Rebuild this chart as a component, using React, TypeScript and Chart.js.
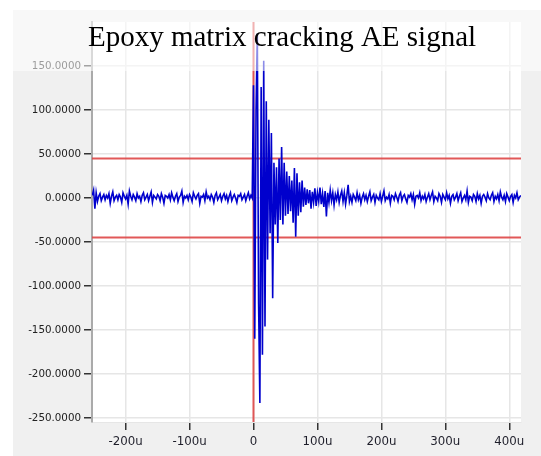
import React, { useEffect, useRef } from "react";
import { Chart, registerables } from "chart.js";

Chart.register(...registerables);

const TITLE = "Epoxy matrix cracking AE signal";

// sampling (µs)
const SAMPLE_START = -252;
const SAMPLE_STEP = 2;

// pre-trigger noise, t = -252 .. -2 µs
const PRE_NOISE = [
  3, 9, -12, 6, -4, 2, 5, -3, 1, 4, -2, 3, 0, 5, -6, 2, 7, -3, 1, 3,
  -2, 4, 1, -5, 6, 2, -1, 3, -7, 8, 2, -2, 4, 1, -3, 5, 0, 2, -4, 3,
  6, -2, 1, 4, -3, 2, 7, -5, 3, 1, -1, 4, 2, -3, 5, 1, -6, 3, 2, 0,
  4, -2, 6, 1, -3, 2, 5, -4, 1, 3, 8, -5, 2, 0, 3, -2, 4, 1, -4, 6,
  2, -1, 3, 5, -6, 2, 1, 4, -3, 7, 0, 2, -2, 4, 1, -5, 3, 6, -2, 1,
  4, -3, 2, 5, -1, 3, -4, 2, 6, -3, 1, 4, 0, -5, 3, 2, 5, -2, 1, 4,
  -3, 2, 6, -1, 3, 0,
];

// burst, t = 0 .. 80 µs
const BURST = [
  128, -160, 100, 187, -120, -233, 126, -178, 156, -146,
  110, -70, 89, -40, 74, -114, 40, -30, 35, -51,
  45, -25, 58, -30, 40, -20, 30, -18, 25, -15,
  20, -28, 34, -44, 28, -20, 18, -16, 20, -10,
  12,
];

// decay, t = 82 .. 150 µs
const DECAY = [
  -8, 10, -6, 9, -12, 7, -5, 11, -9, 6, -4, 12, -7, 5, -10, 8, -21, 6, -5, 9,
  -3, 6, -8, 4, -2, 7, -5, 3, 8, -4, 6, -7, 3, 15, -4,
];

// tail noise, t = 152 .. 418 µs
const TAIL_NOISE = [
  2, -5, 4, 1, -3, 6, -2, 3, -6, 1, 5, -2, 3, -4, 2, 7, -3, 1, 4, -5,
  3, 0, -2, 5, -4, 2, 8, -3, 1, -1, 4, -6, 3, 2, -2, 5, 1, -4, 3, 6,
  -3, 2, 4, -1, -5, 3, 1, 5, -2, 4, -7, 2, 3, 0, 6, -3, 2, -1, 4, -4,
  1, 5, -2, 3, 7, -4, 2, 0, -3, 5, 2, -5, 4, 1, -2, 6, -1, 3, -6, 2,
  4, -2, 1, 5, -3, 2, 6, -4, 0, 3, -2, 8, -5, 2, 1, -3, 4, 2, -4, 5,
  -1, 3, -6, 2, 4, 1, -3, 5, 0, -2, 3, 6, -4, 2, -1, 4, -3, 7, 1, -2,
  3, -4, 5, 1, -3, 2, 4, -5, 3, 0, 6, -2, 1, 3,
];

const THRESHOLD = 45;
const TRIGGER_TIME = 0;

const X_MIN = -252.5;
const X_MAX = 418.3;
const Y_MIN = -254.5;
const Y_MAX = 200;
const X_TICKS = [-200, -100, 0, 100, 200, 300, 400];
const Y_TICKS = [-250, -200, -150, -100, -50, 0, 50, 100, 150];

const SIGNAL = [...PRE_NOISE, ...BURST, ...DECAY, ...TAIL_NOISE];

const bgPlugin = {
  id: "panelBg",
  beforeDraw(chart: any) {
    const { ctx, chartArea } = chart;
    ctx.save();
    ctx.fillStyle = "#ffffff";
    ctx.fillRect(0, 0, chart.width, chart.height);
    ctx.fillStyle = "#f0f0f0";
    ctx.fillRect(13, 10, chart.width - 13, chart.height - 10);
    ctx.fillStyle = "#ffffff";
    ctx.fillRect(chartArea.left, chartArea.top, chartArea.right - chartArea.left, chartArea.bottom - chartArea.top);
    ctx.restore();
  },
  afterDraw(chart: any) {
    const { ctx } = chart;
    ctx.save();
    ctx.fillStyle = "rgba(255,255,255,0.55)";
    ctx.fillRect(13, 10, chart.width - 13, 61);
    ctx.fillStyle = "#000000";
    ctx.font = '29px "Liberation Serif", "Times New Roman", serif';
    ctx.textAlign = "center";
    ctx.textBaseline = "alphabetic";
    ctx.fillText(TITLE, 282, 46);
    ctx.restore();
  },
};

export default function App() {
  const ref = useRef<HTMLCanvasElement | null>(null);

  useEffect(() => {
    if (!ref.current) return;
    const signalPoints = SIGNAL.map((v, i) => ({ x: SAMPLE_START + i * SAMPLE_STEP, y: v }));
    const red = "rgba(222, 70, 70, 0.9)";
    const chart = new Chart(ref.current, {
      type: "line",
      data: {
        datasets: [
          {
            data: signalPoints,
            borderColor: "rgb(0, 0, 205)",
            borderWidth: 1.6,
            pointRadius: 0,
            tension: 0,
          },
          {
            data: [
              { x: X_MIN, y: THRESHOLD },
              { x: X_MAX, y: THRESHOLD },
            ],
            borderColor: red,
            borderWidth: 2,
            pointRadius: 0,
          },
          {
            data: [
              { x: X_MIN, y: -THRESHOLD },
              { x: X_MAX, y: -THRESHOLD },
            ],
            borderColor: red,
            borderWidth: 2,
            pointRadius: 0,
          },
          {
            data: [
              { x: TRIGGER_TIME, y: Y_MIN },
              { x: TRIGGER_TIME, y: Y_MAX },
            ],
            borderColor: red,
            borderWidth: 2,
            pointRadius: 0,
          },
        ],
      },
      options: {
        animation: false,
        responsive: false,
        devicePixelRatio: 1,
        layout: { padding: { left: 0, top: 22, right: 20, bottom: 0 } },
        plugins: {
          legend: { display: false },
          tooltip: { enabled: false },
          title: { display: false },
        },
        scales: {
          x: {
            type: "linear",
            min: X_MIN,
            max: X_MAX,
            afterBuildTicks: (s: any) => {
              s.ticks = X_TICKS.map((v) => ({ value: v }));
            },
            afterFit: (s: any) => {
              s.height = 34;
            },
            grid: {
              color: "#e6e6e6",
              lineWidth: 1.5,
              tickColor: "#333333",
              tickLength: 8,
              tickWidth: 1.5,
            },
            border: { display: true, color: "#e6e6e6", width: 1 },
            ticks: {
              padding: 5,
              maxRotation: 0,
              autoSkip: false,
              color: "#1e1e2a",
              font: { family: '"DejaVu Sans", Verdana, sans-serif', size: 11.8 },
              callback: (v: any) => (Number(v) === 0 ? "0" : `${v}u`),
            },
          },
          y: {
            type: "linear",
            min: Y_MIN,
            max: Y_MAX,
            afterBuildTicks: (s: any) => {
              s.ticks = Y_TICKS.map((v) => ({ value: v }));
            },
            afterFit: (s: any) => {
              s.width = 92;
            },
            grid: {
              color: "#e6e6e6",
              lineWidth: 1.5,
              tickColor: "#333333",
              tickLength: 8,
              tickWidth: 1.5,
            },
            border: { display: true, color: "#aaaaaa", width: 2 },
            ticks: {
              padding: 3,
              autoSkip: false,
              color: "#222222",
              font: { family: '"DejaVu Sans", Verdana, sans-serif', size: 10.3 },
              callback: (v: any) => Number(v).toFixed(4),
            },
          },
        },
      },
      plugins: [bgPlugin],
    } as any);
    return () => chart.destroy();
  }, []);

  return (
    <div style={{ position: "absolute", left: 0, top: 0, width: 541, height: 456 }}>
      <canvas ref={ref} width={541} height={456} style={{ display: "block" }} />
    </div>
  );
}
